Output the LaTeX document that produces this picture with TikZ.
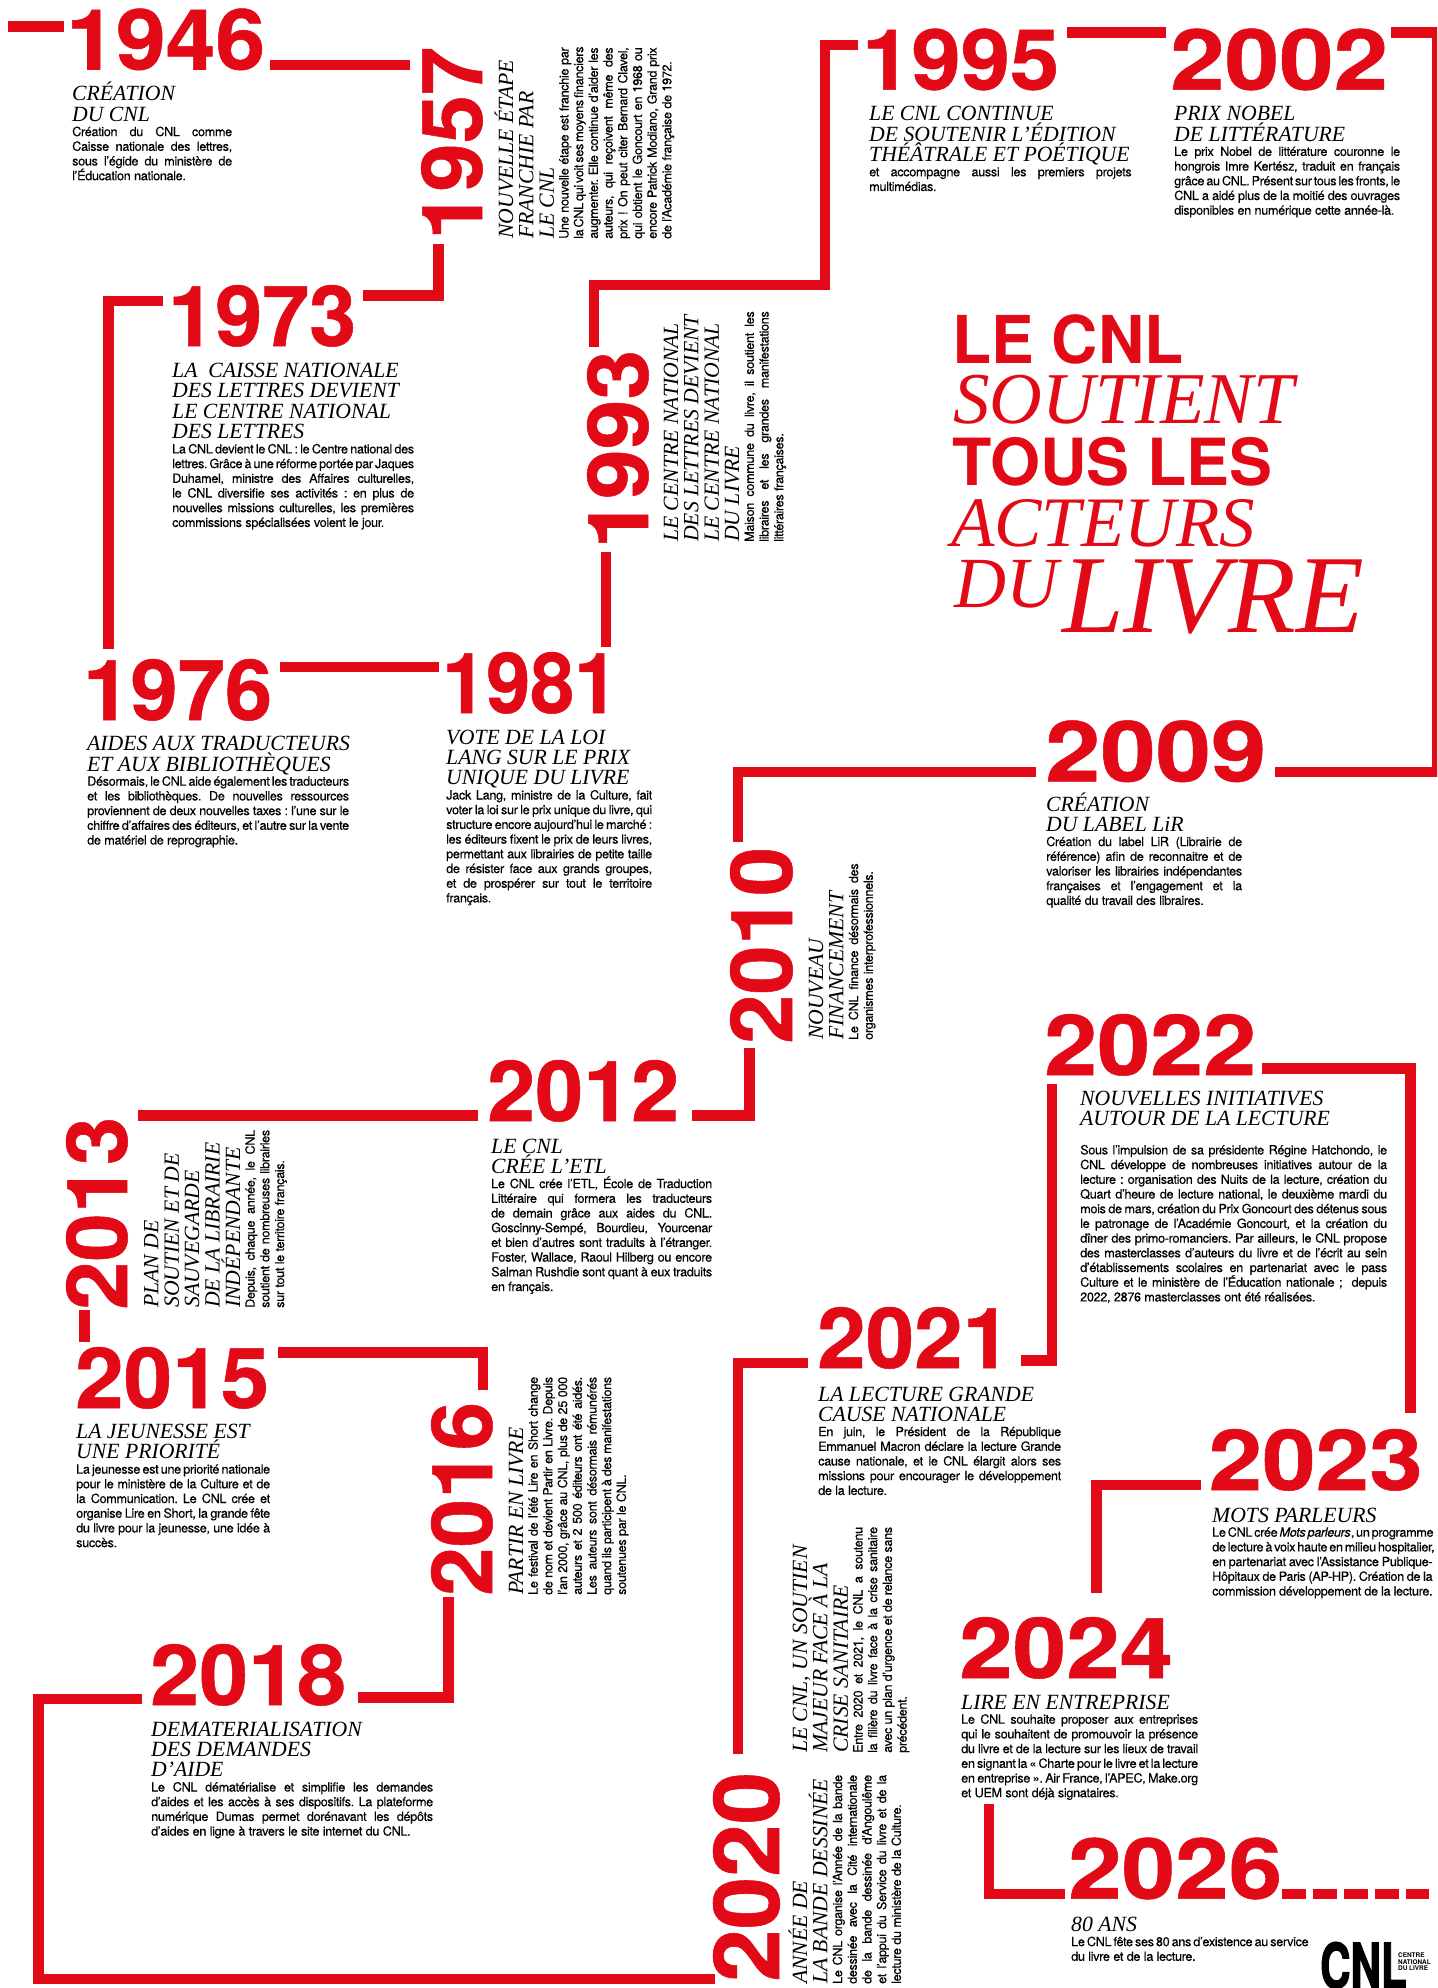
\documentclass[tikz,border=0pt]{standalone}
\usepackage{graphicx}
\usepackage{fontspec}
\setmainfont{TeX Gyre Heros}
\newfontfamily\hdf{Liberation Serif}
\newfontfamily\bdf{TeX Gyre Heros}[LetterSpace=-2.8,FakeBold=0.22]
\newfontfamily\logof{TeX Gyre Heros}[BoldFeatures={FakeBold=2.2}]
\newfontfamily\yrf{TeX Gyre Heros}[BoldFeatures={FakeBold=0.6}]
\definecolor{cnlred}{HTML}{E30A17}
\newdimen\cW
\newcommand\bfnt{\bdf\fontsize{12.7}{14.7}\selectfont\frenchspacing}
\newcommand\jl[1]{\hbox to \cW{\bfnt\spaceskip=.26em plus 1fil minus .12em\relax #1}}
\newcommand\el[1]{\hbox{\bfnt\spaceskip=.26em\relax #1}}
\newcommand\hd[1]{\hbox{\hdf\itshape\fontsize{21.7}{20}\selectfont #1}}
\newcommand\bs{\baselineskip=14.7pt\relax}
\newcommand\yr[7]{\node (#1) [yearnode,rotate=#4] at (#2,#3) {\resizebox{#5pt}{#6pt}{\yrf\fontsize{85}{85}\selectfont\bfseries #7}};}
\newcommand\blk[6]{\node (#1) [blocknode,rotate=#4] at (#2,#3) {\cW=#5pt\vtop{\baselineskip=20.4pt\lineskiplimit=-100pt\parindent=0pt #6}};}
\tikzset{
  yearnode/.style={anchor=base west,inner sep=0pt,text=cnlred},
  blocknode/.style={anchor=base west,inner sep=0pt,text=black},
  titlenode/.style={anchor=base west,inner sep=0pt,text=cnlred},
  tl/.style={draw=cnlred,line width=10.5pt,line cap=butt,line join=miter},
}
\begin{document}
\begin{tikzpicture}[x=1pt,y=-1pt]
\useasboundingbox (0,0) rectangle (1437,1988);
\clip (0,0) rectangle (1437,1988);
% ---- years
\yr{y1946}{66}{69.5}{0}{199}{61}{1946}
\yr{y1957}{482}{240}{90}{193}{61}{1957}
\yr{y1973}{168}{346}{0}{188}{61}{1973}
\yr{y1976}{83}{720}{0}{189}{61}{1976}
\yr{y1981}{442}{713}{0}{176}{61}{1981}
\yr{y1993}{648}{549}{90}{199}{61}{1993}
\yr{y1995}{862}{89.6}{0}{197}{61}{1995}
\yr{y2002}{1170}{89.6}{0}{218}{61}{2002}
\yr{y2009}{1045}{781.4}{0}{221}{61}{2009}
\yr{y2010}{792}{1044}{90}{197}{62}{2010}
\yr{y2012}{487}{1121}{0}{192}{61}{2012}
\yr{y2013}{127}{1310}{90}{193}{61}{2013}
\yr{y2015}{75}{1408}{0}{194}{61}{2015}
\yr{y2016}{492}{1596}{90}{194}{61}{2016}
\yr{y2018}{150}{1705}{0}{196}{61}{2018}
\yr{y2020}{779}{1982}{90}{210}{66}{2020}
\yr{y2021}{817}{1368}{0}{194}{61}{2021}
\yr{y2022}{1044}{1075}{0}{212}{61}{2022}
\yr{y2023}{1208.5}{1490}{0}{214}{61}{2023}
\yr{y2024}{959}{1678}{0}{214}{61}{2024}
\yr{y2026}{1068}{1898.6}{0}{214}{61}{2026}
% ---- connectors
\coordinate (a1) at (8,26.5); \coordinate (b1) at (64,26.5);
\draw[tl] (a1) -- (b1);
\coordinate (a2) at (270,65); \coordinate (b2) at (410,65);
\draw[tl] (a2) -- (b2);
\coordinate (a3) at (438.5,244); \coordinate (b3) at (363,295.5);
\draw[tl] (a3) |- (b3);
\coordinate (a4) at (163,301); \coordinate (b4) at (108.5,649);
\draw[tl] (a4) -| (b4);
\coordinate (a5) at (594,347); \coordinate (m5) at (825,285); \coordinate (b5) at (858,45);
\draw[tl] (a5) |- (m5) |- (b5);
\coordinate (a6) at (606,552); \coordinate (b6) at (606,647);
\draw[tl] (a6) -- (b6);
\coordinate (a6b) at (280,667); \coordinate (b6b) at (439,667);
\draw[tl] (a6b) -- (b6b);
\coordinate (a7) at (1067,32.5); \coordinate (b7) at (1166,32.5);
\draw[tl] (a7) -- (b7);
\coordinate (a8) at (1391,32.5); \coordinate (m8) at (1437.3,772); \coordinate (b8) at (1275,772);
\draw[tl] (a8) -| (m8) -- (b8);
\coordinate (a9) at (1036,772); \coordinate (b9) at (738,842);
\draw[tl] (a9) -| (b9);
\coordinate (a10) at (749.5,1048); \coordinate (b10) at (692,1115.5);
\draw[tl] (a10) |- (b10);
\coordinate (a11) at (138,1115.5); \coordinate (b11) at (478,1115.5);
\draw[tl] (a11) -- (b11);
\coordinate (a12) at (84.5,1310); \coordinate (b12) at (84.5,1342);
\draw[tl] (a12) -- (b12);
\coordinate (a13) at (278,1352.5); \coordinate (b13) at (483,1389.5);
\draw[tl] (a13) -| (b13);
\coordinate (a14) at (448.5,1597); \coordinate (b14) at (358,1697.5);
\draw[tl] (a14) |- (b14);
\coordinate (a15) at (142,1699); \coordinate (m15) at (38.5,1979); \coordinate (b15) at (715,1979);
\draw[tl] (a15) -| (m15) -- (b15);
\coordinate (a16) at (738,1754); \coordinate (b16) at (808,1363);
\draw[tl] (a16) |- (b16);
\coordinate (a17) at (1021,1360.5); \coordinate (b17) at (1052,1084);
\draw[tl] (a17) -| (b17);
\coordinate (a18) at (1262,1068.5); \coordinate (b18) at (1410.5,1413);
\draw[tl] (a18) -| (b18);
\coordinate (a19) at (1201,1485); \coordinate (b19) at (1096.5,1593);
\draw[tl] (a19) -| (b19);
\coordinate (a20) at (989,1804); \coordinate (b20) at (1065,1894);
\draw[tl] (a20) |- (b20);
\coordinate (a21) at (1281.5,1894); \coordinate (b21) at (1429,1894);
\draw[tl,dash pattern=on 24pt off 7pt] (a21) -- (b21);
% ---- text blocks
\blk{t1946}{72}{101}{0}{160}{\hd{CRÉATION}\hd{DU CNL}\bs
 \jl{Création du CNL comme}\jl{Caisse nationale des lettres,}\jl{sous l’égide du ministère de}\el{l’Éducation nationale.}}
\blk{t1957}{513}{239}{90}{191.5}{\hd{NOUVELLE ÉTAPE}\hd{FRANCHIE PAR}\hd{LE CNL}\bs
 \jl{Une nouvelle étape est franchie par}\jl{la CNL qui voit ses moyens financiers}\jl{augmenter. Elle continue d’aider les}\jl{auteurs, qui reçoivent même des}\jl{prix ! On peut citer Bernard Clavel,}\jl{qui obtient le Goncourt en 1968 ou}\jl{encore Patrick Modiano, Grand prix}\el{de l’Académie française de 1972.}}
\blk{t1973}{172}{377.5}{0}{242}{\hd{LA\ \ CAISSE NATIONALE}\hd{DES LETTRES DEVIENT}\hd{LE CENTRE NATIONAL}\hd{DES LETTRES}\bs
 \jl{La CNL devient le CNL : le Centre national des}\jl{lettres. Grâce à une réforme portée par Jaques}\jl{Duhamel, ministre des Affaires culturelles,}\jl{le CNL diversifie ses activités : en plus de}\jl{nouvelles missions culturelles, les premières}\el{commissions spécialisées voient le jour.}}
\blk{t1976}{87}{750.6}{0}{262}{\hd{AIDES AUX TRADUCTEURS}\hd{ET AUX BIBLIOTHÈQUES}\bs
 \jl{Désormais, le CNL aide également les traducteurs}\jl{et les bibliothèques. De nouvelles ressources}\jl{proviennent de deux nouvelles taxes : l’une sur le}\jl{chiffre d’affaires des éditeurs, et l’autre sur la vente}\el{de matériel de reprographie.}}
\blk{t1981}{446}{744}{0}{206}{\hd{VOTE DE LA LOI}\hd{LANG SUR LE PRIX}\hd{UNIQUE DU LIVRE}\bs
 \jl{Jack Lang, ministre de la Culture, fait}\jl{voter la loi sur le prix unique du livre, qui}\jl{structure encore aujourd’hui le marché :}\jl{les éditeurs fixent le prix de leurs livres,}\jl{permettant aux librairies de petite taille}\jl{de résister face aux grands groupes,}\jl{et de prospérer sur tout le territoire}\el{français.}}
\blk{t1993}{678}{542}{90}{230.6}{\hd{LE CENTRE NATIONAL}\hd{DES LETTRES DEVIENT}\hd{LE CENTRE NATIONAL}\hd{DU LIVRE}\bs
 \jl{Maison commune du livre, il soutient les}\jl{libraires et les grandes manifestations}\el{littéraires françaises.}}
\blk{t1995}{869}{120.8}{0}{262.5}{\hd{LE CNL CONTINUE}\hd{DE SOUTENIR L’ÉDITION}\hd{THÉÂTRALE ET POÉTIQUE}\bs
 \jl{et accompagne aussi les premiers projets}\el{multimédias.}}
\blk{t2002}{1174}{120.8}{0}{226}{\hd{PRIX NOBEL}\hd{DE LITTÉRATURE}\bs
 \jl{Le prix Nobel de littérature couronne le}\jl{hongrois Imre Kertész, traduit en français}\jl{grâce au CNL. Présent sur tous les fronts, le}\jl{CNL a aidé plus de la moitié des ouvrages}\el{disponibles en numérique cette année-là.}}
\blk{t2009}{1046}{811}{0}{196}{\hd{CRÉATION}\hd{DU LABEL LiR}\bs
 \jl{Création du label LiR (Librairie de}\jl{référence) afin de reconnaitre et de}\jl{valoriser les librairies indépendantes}\jl{françaises et l’engagement et la}\el{qualité du travail des libraires.}}
\blk{t2010}{823}{1040}{90}{176.5}{\hd{NOUVEAU}\hd{FINANCEMENT}\bs
 \jl{Le CNL finance désormais des}\el{organismes interprofessionnels.}}
\blk{t2012}{491}{1153}{0}{221}{\hd{LE CNL}\hd{CRÉE L’ETL}\bs
 \jl{Le CNL crée l’ETL, École de Traduction}\jl{Littéraire qui formera les traducteurs}\jl{de demain grâce aux aides du CNL.}\jl{Goscinny-Sempé, Bourdieu, Yourcenar}\jl{et bien d’autres sont traduits à l’étranger.}\jl{Foster, Wallace, Raoul Hilberg ou encore}\jl{Salman Rushdie sont quant à eux traduits}\el{en français.}}
\blk{t2013}{158.4}{1308}{90}{178}{\hd{PLAN DE}\hd{SOUTIEN ET DE}\hd{SAUVEGARDE}\hd{DE LA LIBRAIRIE}\hd{INDÉPENDANTE}\bs
 \jl{Depuis, chaque année, le CNL}\jl{soutient de nombreuses librairies}\el{sur tout le territoire français.}}
\blk{t2015}{76}{1438.5}{0}{194}{\hd{LA JEUNESSE EST}\hd{UNE PRIORITÉ}\bs
 \jl{La jeunesse est une priorité nationale}\jl{pour le ministère de la Culture et de}\jl{la Communication. Le CNL crée et}\jl{organise Lire en Short, la grande fête}\jl{du livre pour la jeunesse, une idée à}\el{succès.}}
\blk{t2016}{523}{1595}{90}{218}{\hd{PARTIR EN LIVRE}\bs
 \jl{Le festival de l’été Lire en Short change}\jl{de nom et devient Partir en Livre. Depuis}\jl{l’an 2000, grâce au CNL, plus de 25 000}\jl{auteurs et 2 500 éditeurs ont été aidés.}\jl{Les auteurs sont désormais rémunérés}\jl{quand ils participent à des manifestations}\el{soutenues par le CNL.}}
\blk{t2018}{151}{1736}{0}{282}{\hd{DEMATERIALISATION}\hd{DES DEMANDES}\hd{D’AIDE}\bs
 \jl{Le CNL dématérialise et simplifie les demandes}\jl{d’aides et les accès à ses dispositifs. La plateforme}\jl{numérique Dumas permet dorénavant les dépôts}\el{d’aides en ligne à travers le site internet du CNL.}}
\blk{t2020}{807}{1984}{90}{209}{\hd{ANNÉE DE}\hd{LA BANDE DESSINÉE}\bs
 \jl{Le CNL organise l’Année de la bande}\jl{dessinée avec la Cité internationale}\jl{de la bande dessinée d’Angoulême}\jl{et l’appui du Service du livre et de la}\el{lecture du ministère de la Culture.}}
\blk{t2020b}{807}{1753}{90}{226}{\hd{LE CNL, UN SOUTIEN}\hd{MAJEUR FACE À LA}\hd{CRISE SANITAIRE}\bs
 \jl{Entre 2020 et 2021, le CNL a soutenu}\jl{la filière du livre face à la crise sanitaire}\jl{avec un plan d’urgence et de relance sans}\el{précédent.}}
\blk{t2021}{818}{1401}{0}{243}{\hd{LA LECTURE GRANDE}\hd{CAUSE NATIONALE}\bs
 \jl{En juin, le Président de la République}\jl{Emmanuel Macron déclare la lecture Grande}\jl{cause nationale, et le CNL élargit alors ses}\jl{missions pour encourager le développement}\el{de la lecture.}}
\blk{t2022}{1080}{1105}{0}{307}{\hd{NOUVELLES INITIATIVES}\hd{AUTOUR DE LA LECTURE}\bs\vskip14.3pt
 \jl{Sous l’impulsion de sa présidente Régine Hatchondo, le}\jl{CNL développe de nombreuses initiatives autour de la}\jl{lecture : organisation des Nuits de la lecture, création du}\jl{Quart d’heure de lecture national, le deuxième mardi du}\jl{mois de mars, création du Prix Goncourt des détenus sous}\jl{le patronage de l’Académie Goncourt, et la création du}\jl{dîner des primo-romanciers. Par ailleurs, le CNL propose}\jl{des masterclasses d’auteurs du livre et de l’écrit au sein}\jl{d’établissements scolaires en partenariat avec le pass}\jl{Culture et le ministère de l’Éducation nationale ;\ \ depuis}\el{2022, 2876 masterclasses ont été réalisées.}}
\blk{t2023}{1212}{1522}{0}{220.4}{\hd{MOTS PARLEURS}\bs
 \jl{Le CNL crée \itshape Mots parleurs\upshape, un programme}\jl{de lecture à voix haute en milieu hospitalier,}\jl{en partenariat avec l’Assistance Publique-}\jl{Hôpitaux de Paris (AP-HP). Création de la}\jl{commission développement de la lecture.}}
\blk{t2024}{961}{1709}{0}{237}{\hd{LIRE EN ENTREPRISE}\bs
 \jl{Le CNL souhaite proposer aux entreprises}\jl{qui le souhaitent de promouvoir la présence}\jl{du livre et de la lecture sur les lieux de travail}\jl{en signant la « Charte pour le livre et la lecture}\jl{en entreprise ». Air France, l’APEC, Make.org}\el{et UEM sont déjà signataires.}}
\blk{t2026}{1071}{1931.4}{0}{237.5}{\hd{80 ANS}\bs
 \jl{Le CNL fête ses 80 ans d’existence au service}\el{du livre et de la lecture.}}
% ---- title
\node (ti1) [titlenode] at (952,363) {\scalebox{.97}[1]{\fontsize{66}{66}\selectfont\bfseries LE CNL}};
\node (ti2) [titlenode] at (953,423) {\hdf\itshape\fontsize{73}{73}\selectfont SOUTIENT};
\node (ti3) [titlenode] at (952,485) {\scalebox{.99}[1]{\fontsize{65}{65}\selectfont\bfseries TOUS LES}};
\node (ti4) [titlenode] at (951,546) {\hdf\itshape\fontsize{71}{71}\selectfont ACTEURS};
\node (ti5) [titlenode] at (954,607) {\hdf\itshape\fontsize{72}{72}\selectfont DU};
\node (ti6) [titlenode] at (1062,632) {\hdf\itshape\fontsize{111}{111}\selectfont LIVRE};
% ---- logo
\node (logo) [anchor=base west,inner sep=0pt,text=black,xscale=.68] at (1320,1988) {\logof\fontsize{62}{62}\selectfont\bfseries CNL};
\node (logot) [anchor=north west,inner sep=0pt,text=black,align=left,font=\fontsize{6.4}{6.2}\selectfont\bfseries] at (1398,1953) {CENTRE\\NATIONAL\\DU LIVRE};
\end{tikzpicture}
\end{document}
